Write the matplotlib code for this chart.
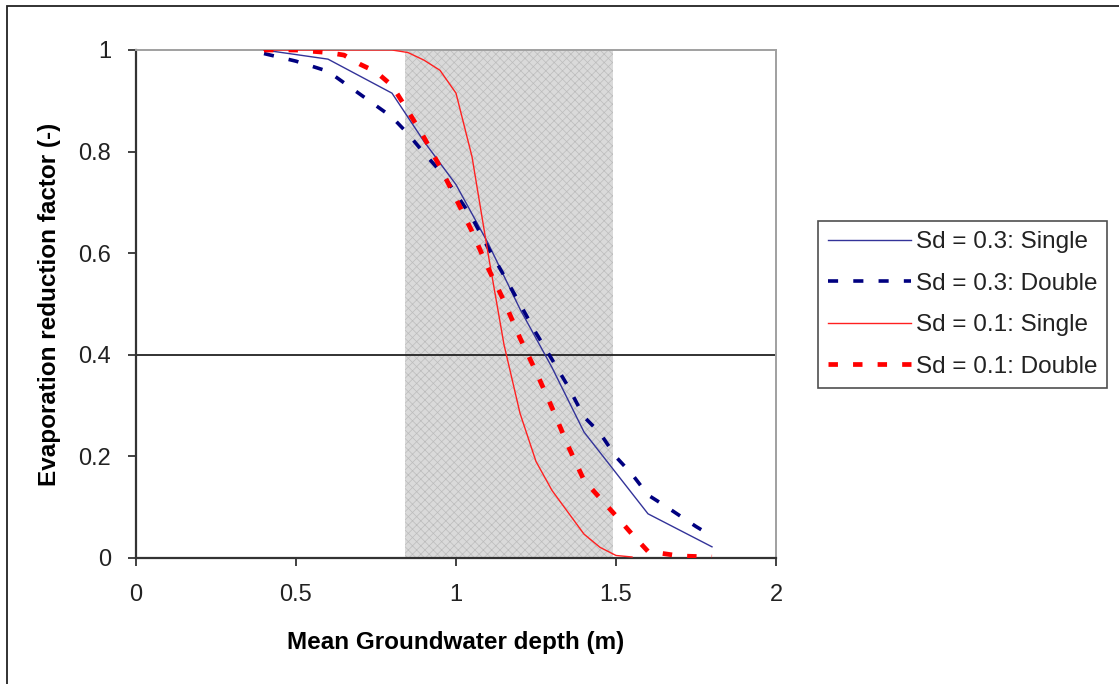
import matplotlib
matplotlib.use("Agg")
import matplotlib.pyplot as plt
from matplotlib.patches import Rectangle
from matplotlib.lines import Line2D

plt.rcParams['font.family'] = ['Liberation Sans', 'DejaVu Sans']
plt.rcParams['hatch.linewidth'] = 0.5

# ---- data ----
x_sd03_single = [0.4, 0.6, 0.8, 0.9, 1.0, 1.1, 1.2, 1.3, 1.4, 1.6, 1.8]
y_sd03_single = [1.0, 0.982, 0.915, 0.82, 0.735, 0.62, 0.49, 0.375, 0.248, 0.087, 0.022]

x_sd03_double = [0.40, 0.50, 0.60, 0.70, 0.80, 0.85, 0.90, 0.95, 1.00, 1.05, 1.10, 1.15, 1.20,
                 1.25, 1.30, 1.35, 1.40, 1.45, 1.50, 1.55, 1.60, 1.65, 1.70, 1.75, 1.80]
y_sd03_double = [0.993, 0.978, 0.958, 0.913, 0.868, 0.835, 0.797, 0.762, 0.717, 0.670, 0.611, 0.556, 0.500,
                 0.443, 0.391, 0.338, 0.278, 0.246, 0.199, 0.165, 0.124, 0.104, 0.083, 0.062, 0.043]

x_sd01_single = [0.40, 0.80, 0.85, 0.90, 0.95, 1.00, 1.05, 1.10, 1.15, 1.20, 1.25, 1.30,
                 1.35, 1.40, 1.45, 1.50, 1.55]
y_sd01_single = [1.0, 1.0, 0.995, 0.98, 0.96, 0.915, 0.79, 0.60, 0.42, 0.285, 0.19, 0.133,
                 0.09, 0.047, 0.021, 0.005, 0.002]

x_sd01_double = [0.40, 0.50, 0.60, 0.65, 0.70, 0.75, 0.80, 0.85, 0.90, 0.95, 1.00, 1.05, 1.10,
                 1.15, 1.20, 1.25, 1.30, 1.35, 1.40, 1.45, 1.50, 1.55, 1.60, 1.70, 1.80]
y_sd01_double = [1.0, 1.0, 0.995, 0.99, 0.972, 0.957, 0.93, 0.88, 0.828, 0.77, 0.707, 0.643, 0.571,
                 0.506, 0.433, 0.367, 0.296, 0.221, 0.153, 0.118, 0.083, 0.047, 0.013, 0.004, 0.002]

labels = ["Sd = 0.3: Single", "Sd = 0.3: Double", "Sd = 0.1: Single", "Sd = 0.1: Double"]
shade_range = (0.84, 1.49)
threshold = 0.4
x_ticks = [0, 0.5, 1, 1.5, 2]
x_ticklabels = ["0", "0.5", "1", "1.5", "2"]
y_ticks = [0, 0.2, 0.4, 0.6, 0.8, 1]
y_ticklabels = ["0", "0.2", "0.4", "0.6", "0.8", "1"]

# ---- figure ----
W, H = 1119, 684
fig = plt.figure(figsize=(W / 100, H / 100), dpi=100)
ax = fig.add_axes([136 / W, 1 - 558 / H, (776 - 136) / W, (558 - 50) / H])

# outer chart border (left and top visible)
fig.patches.append(Rectangle((7 / W, -0.2), 1.5, 0.2 + 1 - 6 / H, transform=fig.transFigure,
                             fill=False, edgecolor='#222222', linewidth=1.3))

ax.axvspan(shade_range[0], shade_range[1], facecolor='#dadada', edgecolor='#bcbcbc',
           hatch='xxxx', linewidth=0, zorder=0.5)
ax.axhline(threshold, color='#222222', linewidth=1.3, zorder=1)

ax.plot(x_sd03_single, y_sd03_single, color='#333399', linewidth=1.0, zorder=3)
ax.plot(x_sd03_double, y_sd03_double, color='#000080', linewidth=2.6,
        linestyle=(0, (2.8, 4.2)), zorder=3)
ax.plot(x_sd01_single, y_sd01_single, color='#ff2020', linewidth=1.0, zorder=3)
ax.plot(x_sd01_double, y_sd01_double, color='#ff0000', linewidth=3.4,
        linestyle=(0, (2.0, 3.2)), zorder=3)

ax.set_xlim(0, 2)
ax.set_ylim(0, 1)
ax.set_xticks(x_ticks)
ax.set_xticklabels(x_ticklabels)
ax.set_yticks(y_ticks)
ax.set_yticklabels(y_ticklabels)
ax.tick_params(direction='out', length=6, width=1.3, colors='#333333', labelsize=17,
               labelcolor='#222222')
ax.tick_params(axis='x', pad=13)
ax.tick_params(axis='y', pad=12)

for s in ['left', 'bottom']:
    ax.spines[s].set_color('#333333')
    ax.spines[s].set_linewidth(1.6)
for s in ['top', 'right']:
    ax.spines[s].set_color('#a0a0a0')
    ax.spines[s].set_linewidth(1.4)

ax.set_xlabel("Mean Groundwater depth (m)", fontsize=17.5, fontweight='bold', labelpad=18)
ax.set_ylabel("Evaporation reduction factor (-)", fontsize=17.5, fontweight='bold', labelpad=12)

handles = [
    Line2D([], [], color='#333399', linewidth=1.0),
    Line2D([], [], color='#000080', linewidth=2.6, linestyle=(0, (2.8, 4.2))),
    Line2D([], [], color='#ff2020', linewidth=1.0),
    Line2D([], [], color='#ff0000', linewidth=3.4, linestyle=(0, (2.0, 3.2))),
]
leg = fig.legend(handles, labels, loc='upper left', bbox_to_anchor=(818 / W, 1 - 221 / H),
                 bbox_transform=fig.transFigure, fontsize=17.5, frameon=True, fancybox=False,
                 handlelength=3.4, handletextpad=0.2, labelspacing=0.8, borderpad=0.42,
                 borderaxespad=0)
leg.get_frame().set_edgecolor('#222222')
leg.get_frame().set_linewidth(1.2)
for t in leg.get_texts():
    t.set_color('#222222')

fig.savefig("out.png", dpi=100, facecolor='white')
